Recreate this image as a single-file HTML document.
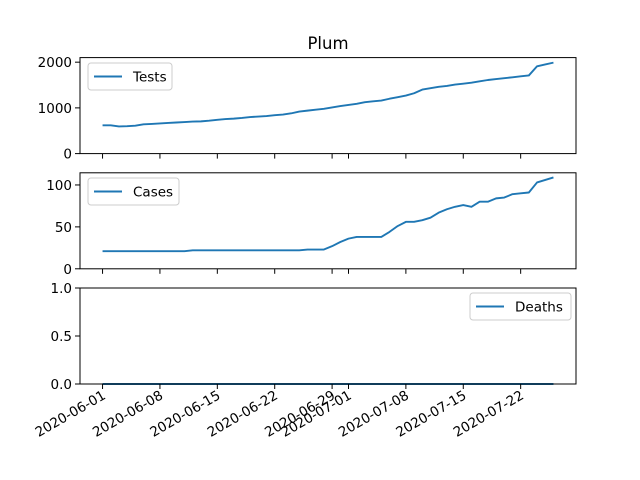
<!DOCTYPE html>
<html><head><meta charset="utf-8"><style>
html,body{margin:0;padding:0;background:#fff;}
svg{display:block;font-family:"DejaVu Sans","Liberation Sans",sans-serif;}
</style></head><body>
<svg id="chart" width="640" height="480" viewBox="0 0 640 480">
<rect width="640" height="480" fill="#fff"/>
<text x="328" y="49" font-size="16.5" text-anchor="middle" fill="#000">Plum</text>
</svg>
<script>
const dayLabels = ["2020-06-01","2020-06-08","2020-06-15","2020-06-22","2020-06-29","2020-07-01","2020-07-08","2020-07-15","2020-07-22"];
const tickDays = [0,7,14,21,28,30,37,44,51];
const tests = [618,618,595,600,610,640,650,660,670,680,690,700,705,720,740,755,765,780,800,810,820,840,855,880,920,940,960,980,1010,1040,1065,1090,1125,1145,1160,1200,1235,1270,1320,1400,1430,1460,1480,1510,1530,1550,1580,1610,1630,1650,1670,1690,1710,1910,1950,1990];
const cases = [21,21,21,21,21,21,21,21,21,21,21,22,22,22,22,22,22,22,22,22,22,22,22,22,22,23,23,23,27,32,36,38,38,38,38,44,51,56,56,58,61,67,71,74,76,74,80,80,84,85,89,90,91,103,106,109];
const deaths = new Array(56).fill(0);
const testsTicks = [0,1000,2000];
const casesTicks = [0,50,100];
const deathsTicks = [0,0.5,1.0];

const NS="http://www.w3.org/2000/svg";
const svg=document.getElementById('chart');
const L=80,R=576;
const xmin=-2.75,xmax=57.75;
function xs(d){return L+(d-xmin)/(xmax-xmin)*(R-L);}
function mk(tag,attrs,parent){const e=document.createElementNS(NS,tag);for(const k in attrs)e.setAttribute(k,attrs[k]);(parent||svg).appendChild(e);return e;}

const panels=[
 {name:"tests",data:tests,ticks:testsTicks,labels:["0","1000","2000"],top:57.6,bot:153.6,ymin:0,ymax:2100,legend:{x:88,y:63,w:84,label:"Tests"}},
 {name:"cases",data:cases,ticks:casesTicks,labels:["0","50","100"],top:172.8,bot:268.8,ymin:0,ymax:114.5,legend:{x:88,y:178,w:91,label:"Cases"}},
 {name:"deaths",data:deaths,ticks:deathsTicks,labels:["0.0","0.5","1.0"],top:288,bot:384,ymin:0,ymax:1,legend:{x:470,y:293,w:101,label:"Deaths"}}
];
panels.forEach((p,pi)=>{
 const g=mk('g',{});
 
 
 const ys=v=>p.bot-(v-p.ymin)/(p.ymax-p.ymin)*(p.bot-p.top);
 const pts=p.data.map((v,i)=>xs(i).toFixed(2)+','+ys(v).toFixed(2)).join(' ');
 const line=mk('polyline',{points:pts,fill:'none',stroke:'#1f77b4','stroke-width':1.9,'stroke-linejoin':'round'},g);
 
 
 const fr=mk('rect',{x:L,y:p.top,width:R-L,height:p.bot-p.top,fill:'none',stroke:'#000','stroke-width':1},g);
 
 
 p.ticks.forEach((t,i)=>{
  const y=ys(t);
  mk('line',{x1:L-5,x2:L,y1:y,y2:y,stroke:'#000','stroke-width':1},g);
  const tx=mk('text',{x:L-8,y:y+5,'font-size':13.5,'text-anchor':'end',fill:'#000'},g);
  tx.textContent=p.labels[i];
  
  
 });
 tickDays.forEach((d,i)=>{
  const x=xs(d);
  mk('line',{x1:x,x2:x,y1:p.bot,y2:p.bot+5,stroke:'#000','stroke-width':1},g);
  if(pi===2){
   const tx=mk('text',{x:0,y:0,'font-size':13.5,'text-anchor':'end',fill:'#000',transform:`translate(${x+4},${p.bot+14}) rotate(-30)`},g);
   tx.textContent=dayLabels[i];
   
   
  }
 });
 const lg=mk('g',{},g);
 
 
 const b=p.legend;
 mk('rect',{x:b.x,y:b.y,width:b.w,height:27,rx:3,fill:'#fff','fill-opacity':0.8,stroke:'#ccc','stroke-width':1},lg);
 mk('line',{x1:b.x+6,x2:b.x+34,y1:b.y+13.5,y2:b.y+13.5,stroke:'#1f77b4','stroke-width':1.9},lg);
 const lt=mk('text',{x:b.x+45,y:b.y+18.5,'font-size':13.5,fill:'#000'},lg);
 lt.textContent=b.label;
 
 
});
</script>
</body></html>
